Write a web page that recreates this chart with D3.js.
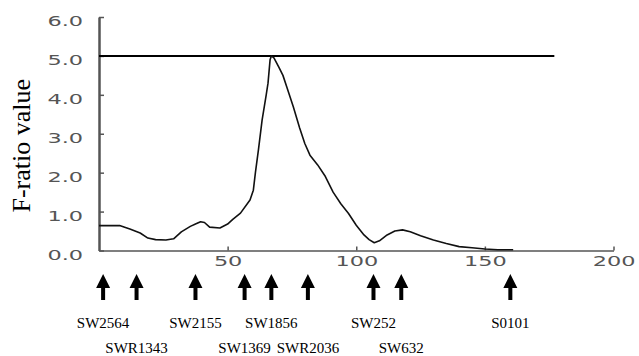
<!DOCTYPE html>
<html>
<head>
<meta charset="utf-8">
<script src="https://cdn.jsdelivr.net/npm/d3@7"></script>
<style>
  body { margin: 0; background: #fff; }
  svg { display: block; }
</style>
</head>
<body>
<svg></svg>
<script>
const WIDTH = 639;
const HEIGHT = 356;

// position along the chromosome (cM) and F-ratio
const positions = [0, 8, 12, 16, 19, 22, 26, 29, 32, 35.5, 37.5, 39.5, 41, 43, 47, 50, 52, 55, 58.7, 60, 60.8, 62, 63.4, 65, 65.7, 66.5, 67, 68, 70, 71.5, 73, 75.5, 78, 80, 82, 85, 88, 91, 94, 97, 100, 103, 105, 107, 109, 112, 115, 118, 121, 125, 130, 135, 140, 145, 150, 155, 161];
const fRatio = [0.64, 0.64, 0.55, 0.45, 0.32, 0.28, 0.27, 0.3, 0.48, 0.62, 0.68, 0.74, 0.72, 0.6, 0.58, 0.68, 0.8, 0.96, 1.3, 1.55, 2.0, 2.6, 3.35, 4.0, 4.3, 4.9, 5.0, 4.95, 4.7, 4.5, 4.2, 3.7, 3.15, 2.75, 2.45, 2.2, 1.9, 1.5, 1.2, 0.95, 0.65, 0.4, 0.28, 0.2, 0.25, 0.4, 0.5, 0.53, 0.48, 0.38, 0.27, 0.18, 0.1, 0.07, 0.04, 0.02, 0.02];

const thresholdValue = 5.0;
const thresholdEnd = 177;

const markerNames = ['SW2564', 'SWR1343', 'SW2155', 'SW1369', 'SW1856', 'SWR2036', 'SW252', 'SW632', 'S0101'];
const markerPositions = [1.6, 14.6, 37.5, 56.6, 67, 81.2, 106.7, 117.5, 159.9];

const xTicks = [50, 100, 150, 200];
const yTicks = [0, 1, 2, 3, 4, 5, 6];

const svg = d3.select('svg')
  .attr('width', WIDTH)
  .attr('height', HEIGHT);

const xScale = d3.scaleLinear().domain([0, 200]).range([99, 613.5]);
const yScale = d3.scaleLinear().domain([0, 6]).range([250.5, 17]);

const TICK_FONT = '"DejaVu Sans", sans-serif';
const SERIF = '"Liberation Serif", "Times New Roman", serif';
const STRETCH = 1.6;

// x axis
const xAxis = d3.axisBottom(xScale)
  .tickValues(xTicks)
  .tickSizeInner(-4)
  .tickSizeOuter(0)
  .tickFormat(d3.format('d'));

const gx = svg.append('g')
  .attr('transform', `translate(0, ${yScale(0)})`)
  .call(xAxis);
gx.select('.domain').attr('stroke', '#555').attr('stroke-width', 1.5);
gx.selectAll('.tick line').attr('stroke', '#555').attr('stroke-width', 1.5);
gx.selectAll('.tick text')
  .attr('y', 16)
  .attr('dy', 0)
  .attr('transform', `scale(${STRETCH},1)`)
  .attr('font-family', TICK_FONT)
  .attr('font-size', 14)
  .attr('fill', '#555');

// y axis
const yAxis = d3.axisLeft(yScale)
  .tickValues(yTicks)
  .tickSizeInner(-5)
  .tickSizeOuter(0)
  .tickFormat(d3.format('.1f'));

const gy = svg.append('g')
  .attr('transform', `translate(${xScale(0)}, 0)`)
  .call(yAxis);
gy.select('.domain').attr('stroke', '#555').attr('stroke-width', 2.5);
gy.selectAll('.tick line').attr('stroke', '#555').attr('stroke-width', 1.5);
gy.selectAll('.tick text')
  .attr('x', -16 / STRETCH)
  .attr('y', 8.5)
  .attr('dy', 0)
  .attr('text-anchor', 'end')
  .attr('transform', `scale(${STRETCH},1)`)
  .attr('font-family', TICK_FONT)
  .attr('font-size', 14)
  .attr('fill', '#555');

svg.append('text')
  .text('F-ratio value')
  .attr('transform', `translate(30, ${(yScale(0) + yScale(6)) / 2 + 12}) rotate(-90)`)
  .attr('text-anchor', 'middle')
  .attr('font-family', SERIF)
  .attr('font-size', 26)
  .attr('fill', '#000');

// threshold
svg.append('line')
  .attr('x1', xScale(0))
  .attr('x2', xScale(thresholdEnd))
  .attr('y1', yScale(thresholdValue))
  .attr('y2', yScale(thresholdValue))
  .attr('stroke', '#000')
  .attr('stroke-width', 2);

// F-ratio curve
const line = d3.line()
  .x((d, i) => xScale(positions[i]))
  .y(d => yScale(d));

svg.append('path')
  .datum(fRatio)
  .attr('d', line)
  .attr('fill', 'none')
  .attr('stroke', '#111')
  .attr('stroke-width', 1.6)
  .attr('stroke-linejoin', 'round');

// marker arrows + names
const ARROW_TOP = 274;
const HEAD_BASE = 288;
const ARROW_BOTTOM = 300;

const markers = svg.selectAll('.marker')
  .data(markerNames)
  .enter()
  .append('g')
  .attr('class', 'marker')
  .attr('transform', (d, i) => `translate(${xScale(markerPositions[i])}, 0)`);

markers.append('path')
  .attr('d', `M0,${ARROW_TOP} L7,${HEAD_BASE} L2,${HEAD_BASE} L2,${ARROW_BOTTOM} L-2,${ARROW_BOTTOM} L-2,${HEAD_BASE} L-7,${HEAD_BASE} Z`)
  .attr('fill', '#000');

markers.append('text')
  .text(d => d)
  .attr('x', 0)
  .attr('y', (d, i) => i % 2 === 0 ? 328 : 353)
  .attr('text-anchor', 'middle')
  .attr('font-family', SERIF)
  .attr('font-size', 15)
  .attr('fill', '#000');
</script>
</body>
</html>
